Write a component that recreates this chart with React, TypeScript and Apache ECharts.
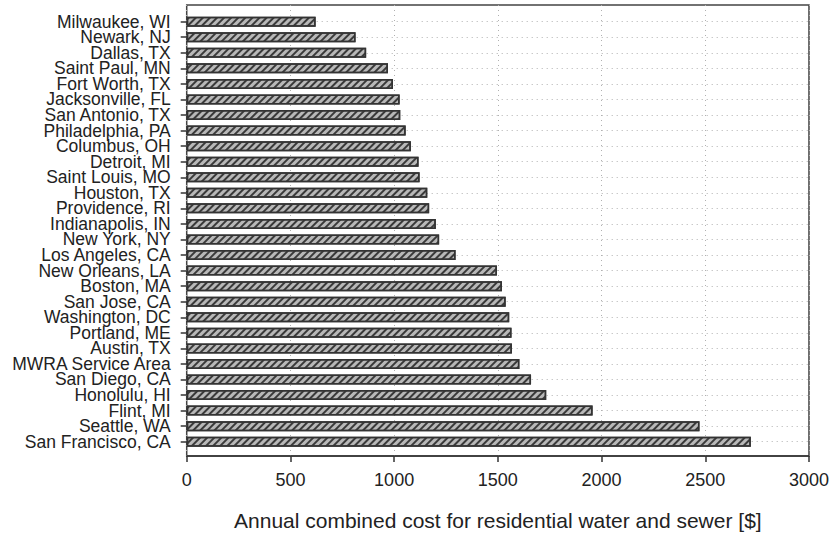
import React, { useEffect, useRef } from "react";
import * as echarts from "echarts";

const categories = [
  "Milwaukee, WI", "Newark, NJ", "Dallas, TX", "Saint Paul, MN", "Fort Worth, TX",
  "Jacksonville, FL", "San Antonio, TX", "Philadelphia, PA", "Columbus, OH", "Detroit, MI",
  "Saint Louis, MO", "Houston, TX", "Providence, RI", "Indianapolis, IN", "New York, NY",
  "Los Angeles, CA", "New Orleans, LA", "Boston, MA", "San Jose, CA", "Washington, DC",
  "Portland, ME", "Austin, TX", "MWRA Service Area", "San Diego, CA", "Honolulu, HI",
  "Flint, MI", "Seattle, WA", "San Francisco, CA",
];

const annualCost = [
  620, 812, 863, 968, 992,
  1024, 1027, 1053, 1078, 1115,
  1120, 1157, 1166, 1198, 1214,
  1293, 1492, 1516, 1534, 1551,
  1562, 1564, 1600, 1656, 1729,
  1952, 2466, 2713,
];

const xMin = 0;
const xMax = 3000;
const xInterval = 500;
const xTitle = "Annual combined cost for residential water and sewer [$]";

const FONT = "'Liberation Sans', Arial, sans-serif";

export default function App() {
  const ref = useRef<HTMLDivElement>(null);

  useEffect(() => {
    document.body.style.margin = "0";
    if (!ref.current) return;
    const chart = echarts.init(ref.current, null, { renderer: "svg" });
    const left = 186.7;
    const width = 623.8;
    const dotted = { type: [1, 4] as any, color: "#b0b0b0", width: 1 };
    chart.setOption({
      animation: false,
      backgroundColor: "#ffffff",
      grid: [
        { left, width, top: 5, height: 452, show: true, borderColor: "#444", borderWidth: 1.5, backgroundColor: "transparent" },
        { left, width, top: 13.9, height: 435.6 },
        { left, width, top: 21.7, height: 420 },
      ],
      xAxis: [
        {
          gridIndex: 0,
          type: "value",
          min: xMin,
          max: xMax,
          interval: xInterval,
          axisLine: { show: true, lineStyle: { color: "#333", width: 1.5 } },
          axisTick: { show: true, length: 6, lineStyle: { color: "#333", width: 1.5 } },
          axisLabel: {
            fontSize: 18,
            color: "#222",
            margin: 15,
            fontFamily: FONT,
            formatter: (v: number) => String(v),
          },
          splitLine: { show: true, lineStyle: dotted },
          name: xTitle,
          nameLocation: "middle",
          nameGap: 54,
          nameTextStyle: { fontSize: 21, color: "#222", fontFamily: FONT },
        },
        { gridIndex: 1, type: "value", min: xMin, max: xMax, show: false },
        { gridIndex: 2, type: "value", min: xMin, max: xMax, show: false },
      ],
      yAxis: [
        { gridIndex: 0, type: "value", show: false },
        {
          gridIndex: 1,
          type: "category",
          data: categories,
          inverse: true,
          axisLine: { show: false },
          axisTick: { show: true, alignWithLabel: true, interval: 0, length: 6, lineStyle: { color: "#333", width: 1.5 } },
          axisLabel: {
            fontSize: 17.5,
            lineHeight: 15,
            color: "#222",
            margin: 16,
            interval: 0,
            fontFamily: FONT,
          },
          splitLine: { show: false },
        },
        {
          gridIndex: 2,
          type: "category",
          data: categories,
          inverse: true,
          boundaryGap: false,
          axisLine: { show: false },
          axisTick: { show: false },
          axisLabel: { show: false },
          splitLine: { show: true, interval: 0, lineStyle: dotted },
        },
      ],
      series: [
        {
          type: "bar",
          xAxisIndex: 1,
          yAxisIndex: 1,
          data: annualCost,
          barWidth: 10,
          itemStyle: {
            color: "#b8b8b8",
            borderColor: "#333",
            borderWidth: 1.5,
            decal: {
              symbol: "rect",
              symbolSize: 1,
              dashArrayX: [1, 0],
              dashArrayY: [1.5, 2.5],
              rotation: -Math.PI / 4,
              color: "#3a3a3a",
            },
          },
        },
      ],
    });
    return () => chart.dispose();
  }, []);

  return <div ref={ref} style={{ width: 832, height: 536 }} />;
}
